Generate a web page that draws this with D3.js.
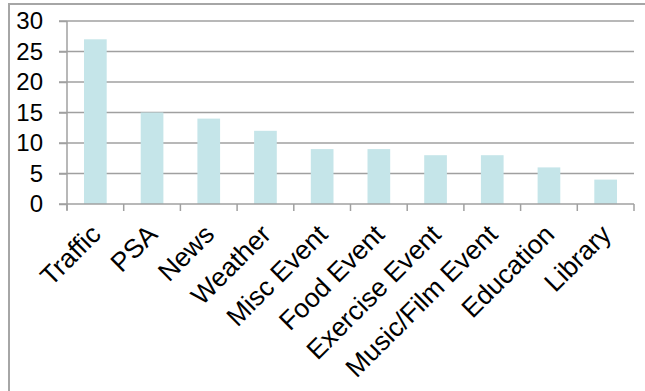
<!DOCTYPE html>
<meta charset="utf-8">
<style>
body {
  margin: 0;
  font-family: "Liberation Sans", Arial, sans-serif;
  background: #fff;
}
.grid line, .axis line, .axis path {
  stroke: #a0a0a0;
  stroke-width: 1.5;
  fill: none;
}
.bar {
  fill: #c5e5e9;
}
</style>
<body>
<script src="https://cdnjs.cloudflare.com/ajax/libs/d3/7.8.5/d3.min.js"></script>
<script>

var width = 645,
    height = 391;

var categories = ["Traffic", "PSA", "News", "Weather", "Misc Event", "Food Event",
                  "Exercise Event", "Music/Film Event", "Education", "Library"];
var counts = [27, 15, 14, 12, 9, 9, 8, 8, 6, 4];
var yTicks = [0, 5, 10, 15, 20, 25, 30];

var margin = {left: 67, right: 11, top: 21, bottom: 187};

var svg = d3.select("body").append("svg")
    .attr("width", width)
    .attr("height", height);

// outer frame (only left and top edges visible)
svg.append("path")
    .attr("d", "M9," + height + "V4H" + width)
    .attr("fill", "none")
    .attr("stroke", "#a6a6a6")
    .attr("stroke-width", 2);

var x = d3.scaleBand()
    .domain(categories)
    .range([margin.left, width - margin.right])
    .paddingInner(0.6)
    .paddingOuter(0.3);

var y = d3.scaleLinear()
    .domain([0, 30])
    .range([height - margin.bottom, margin.top]);

// gridlines
svg.append("g").attr("class", "grid")
  .selectAll("line")
    .data(yTicks.slice(1))
  .enter().append("line")
    .attr("x1", margin.left - 8)
    .attr("x2", width - margin.right)
    .attr("y1", function(d) { return y(d); })
    .attr("y2", function(d) { return y(d); });

svg.selectAll(".bar")
    .data(counts)
  .enter().append("rect")
    .attr("class", "bar")
    .attr("x", function(d, i) { return x(categories[i]); })
    .attr("width", x.bandwidth())
    .attr("y", function(d) { return y(d); })
    .attr("height", function(d) { return y(0) - y(d); });

// y axis
var yAxis = svg.append("g").attr("class", "axis")
    .attr("transform", "translate(" + margin.left + ",0)")
    .call(d3.axisLeft(y).tickValues(yTicks).tickSize(8).tickPadding(16).tickSizeOuter(0));
yAxis.select(".domain").remove();
yAxis.append("line")
    .attr("y1", y(30)).attr("y2", y(0) + 6);
yAxis.selectAll("text")
    .attr("fill", "#000")
    .style("font-size", "24px")
    .style("font-family", "Liberation Sans, Arial, sans-serif");

// x axis
var step = x.step();
var xg = svg.append("g").attr("class", "axis");
xg.append("line")
    .attr("x1", margin.left - 8).attr("x2", width - margin.right)
    .attr("y1", y(0)).attr("y2", y(0));
xg.selectAll(".tick")
    .data(d3.range(categories.length + 1))
  .enter().append("line")
    .attr("x1", function(d) { return margin.left + d * step; })
    .attr("x2", function(d) { return margin.left + d * step; })
    .attr("y1", y(0))
    .attr("y2", y(0) + 7);

xg.selectAll("text")
    .data(categories)
  .enter().append("text")
    .attr("transform", function(d) {
      return "translate(" + (x(d) + x.bandwidth() / 2 + 7) + "," + (y(0) + 32) + ") rotate(-45)";
    })
    .attr("text-anchor", "end")
    .style("font-size", "26.5px")
    .text(function(d) { return d; });

</script>
